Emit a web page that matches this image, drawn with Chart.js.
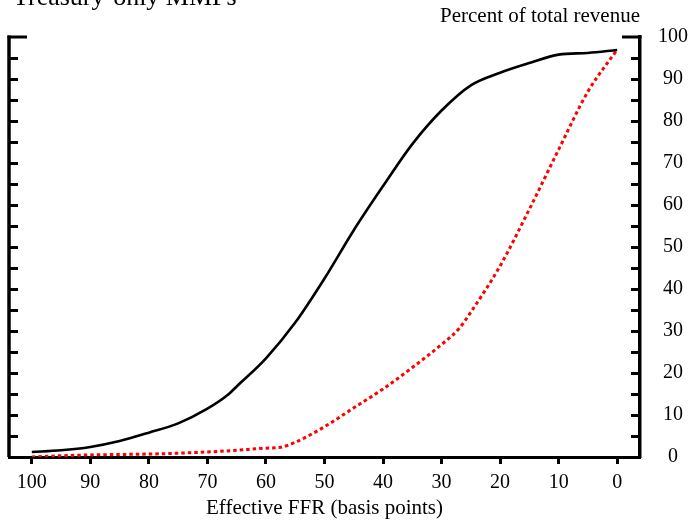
<!DOCTYPE html>
<html>
<head>
<meta charset="utf-8">
<script src="https://cdn.jsdelivr.net/npm/chart.js@4.4.1/dist/chart.umd.min.js"></script>
<style>
  html, body { margin: 0; padding: 0; background: #fff; }
  #wrap { width: 689px; height: 520px; position: relative; }
</style>
</head>
<body>
<div id="wrap"><canvas id="c" width="689" height="520"></canvas></div>
<script>
// Effective FFR (basis points) for each series
const blackFFR = [100, 95, 90, 85, 80, 75, 70, 66.5, 65, 60, 55, 50, 45, 40, 35, 30, 25, 20, 15, 10, 5, 0];
const blackValues = [1.2, 1.6, 2.4, 3.8, 5.8, 8.0, 11.5, 14.8, 16.8, 23.5, 32.0, 42.5, 54.0, 64.5, 74.5, 82.5, 88.5, 91.5, 93.8, 95.8, 96.2, 96.9];
const redFFR = [100, 95, 90, 85, 80, 75, 70, 65, 60, 57.5, 55, 50, 45, 40, 35, 30, 27, 25, 20, 15, 10, 5, 0];
const redValues = [0.0, 0.3, 0.5, 0.6, 0.7, 0.9, 1.2, 1.6, 2.1, 2.3, 3.5, 7.2, 11.7, 16.2, 21.3, 26.8, 30.6, 34.5, 45.5, 59.0, 73.2, 87.0, 97.0];

const xTickValues = [100, 90, 80, 70, 60, 50, 40, 30, 20, 10, 0];
const yTickValues = [0, 10, 20, 30, 40, 50, 60, 70, 80, 90, 100];
const yMarkValues = [5, 10, 15, 20, 25, 30, 35, 40, 45, 50, 55, 60, 65, 70, 75, 80, 85, 90, 95];

const titleText = 'Treasury-only MMFs';
const unitText = 'Percent of total revenue';
const xTitleText = 'Effective FFR (basis points)';

const FONT = '"Liberation Serif", "Times New Roman", serif';

const framePlugin = {
  id: 'frame',
  afterDraw(chart) {
    const ctx = chart.ctx;
    const area = chart.chartArea;
    const y = chart.scales.y;
    ctx.save();
    ctx.strokeStyle = '#000';
    ctx.lineCap = 'butt';
    // left axis line
    ctx.lineWidth = 3.5;
    ctx.beginPath();
    ctx.moveTo(area.left, area.top - 1.5);
    ctx.lineTo(area.left, area.bottom);
    ctx.stroke();
    // inward ticks
    ctx.lineWidth = 3;
    yMarkValues.forEach(v => {
      const py = Math.round(y.getPixelForValue(v)) + 0.5;
      ctx.beginPath();
      ctx.moveTo(area.left, py);
      ctx.lineTo(area.left + 9, py);
      ctx.moveTo(area.right, py);
      ctx.lineTo(area.right - 9, py);
      ctx.stroke();
    });
    const pt = y.getPixelForValue(100);
    ctx.beginPath();
    ctx.moveTo(area.left - 1.5, pt);
    ctx.lineTo(area.left + 18, pt);
    ctx.moveTo(area.right + 1.5, pt);
    ctx.lineTo(area.right - 18, pt);
    ctx.stroke();
    // texts
    ctx.fillStyle = '#000';
    ctx.textBaseline = 'alphabetic';
    ctx.font = '26px ' + FONT;
    ctx.textAlign = 'left';
    ctx.fillText(titleText, 13, 5);
    ctx.font = '21px ' + FONT;
    ctx.textAlign = 'right';
    ctx.fillText(unitText, 640, 22);
    ctx.restore();
  }
};

new Chart(document.getElementById('c'), {
  type: 'line',
  data: {
    datasets: [
      {
        label: 'Solid',
        data: blackFFR.map((x, i) => ({ x: x, y: blackValues[i] })),
        borderColor: '#000',
        borderWidth: 2.6,
        pointRadius: 0,
        cubicInterpolationMode: 'monotone',
        fill: false
      },
      {
        label: 'Dotted',
        data: redFFR.map((x, i) => ({ x: x, y: redValues[i] })),
        borderColor: '#ff0000',
        borderWidth: 3,
        borderDash: [3.5, 3],
        pointRadius: 0,
        cubicInterpolationMode: 'monotone',
        fill: false
      }
    ]
  },
  options: {
    responsive: false,
    animation: false,
    events: [],
    layout: { padding: { left: 9, top: 37, right: 0, bottom: 0 } },
    plugins: { legend: { display: false }, tooltip: { enabled: false }, title: { display: false } },
    scales: {
      x: {
        type: 'linear',
        reverse: true,
        min: -3.9,
        max: 103.9,
        position: 'bottom',
        afterBuildTicks(scale) { scale.ticks = xTickValues.map(v => ({ value: v })); },
        afterFit(scale) { scale.height = 63; },
        grid: { drawOnChartArea: false, drawTicks: true, tickLength: 7, tickColor: '#000', tickWidth: 3 },
        border: { display: true, color: '#000', width: 3 },
        ticks: { color: '#000', font: { family: FONT, size: 20 }, padding: 7, maxRotation: 0, autoSkip: false },
        title: { display: true, text: xTitleText, color: '#000', font: { family: FONT, size: 21, lineHeight: 1.1 }, padding: { top: 0, bottom: 0 } }
      },
      y: {
        type: 'linear',
        position: 'right',
        min: 0,
        max: 100,
        afterBuildTicks(scale) { scale.ticks = yTickValues.map(v => ({ value: v })); },
        afterFit(scale) { scale.width = 49; },
        grid: { display: false, drawTicks: false, drawOnChartArea: false },
        border: { display: true, color: '#000', width: 3.5 },
        ticks: { color: '#000', font: { family: FONT, size: 20 }, padding: 18, crossAlign: 'center' }
      }
    }
  },
  plugins: [framePlugin]
});
</script>
</body>
</html>
